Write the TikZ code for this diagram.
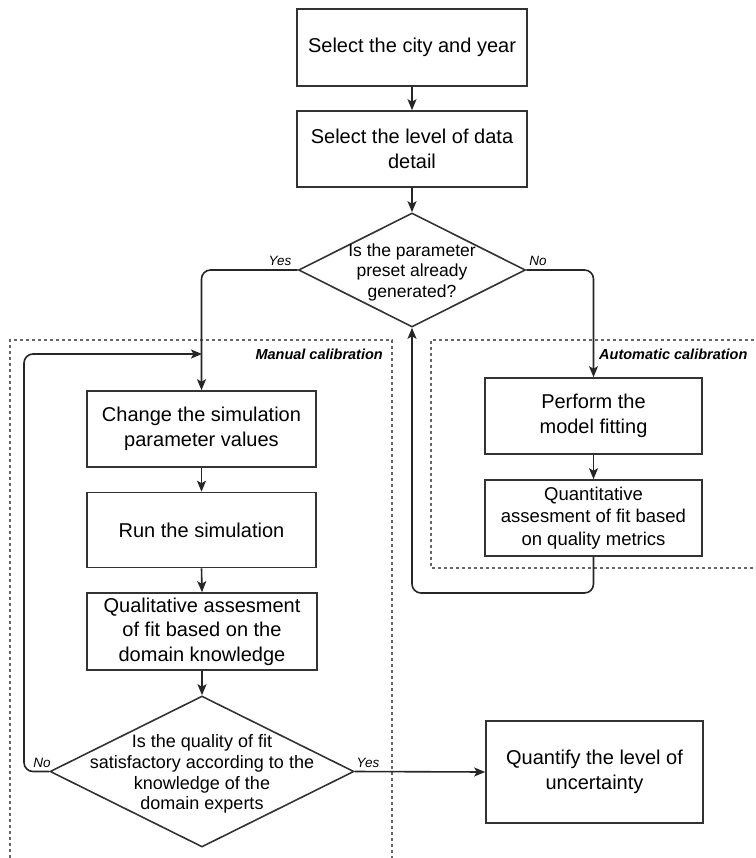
\documentclass[tikz,border=0pt]{standalone}
\usepackage{fontspec}
\setmainfont{Liberation Sans}
\usetikzlibrary{shapes.geometric,arrows.meta,calc}
\tikzset{
  box/.style={draw=black!80, line width=1.6pt, fill=white, inner sep=0pt, align=center,
    font=\fontsize{20}{24.5}\selectfont},
  dia/.style={draw=black!80, line width=1.6pt, diamond, inner sep=0pt},
  diatext/.style={align=center, inner sep=0pt},
  arr/.style={line width=1.6pt, draw=black!85, -{Stealth[length=11pt,width=9pt,inset=2.5pt]}},
  lab/.style={font=\fontsize{13.5}{14}\selectfont\itshape, inner sep=0pt},
  grp/.style={draw=black!60, line width=1.3pt, dash pattern=on 3pt off 3pt},
  grplab/.style={font=\fontsize{14.5}{15}\selectfont\bfseries\itshape, inner sep=0pt}
}
\begin{document}
\begin{tikzpicture}[x=1pt,y=-1pt]
\useasboundingbox (0,0) rectangle (755,858);
% groups
\draw[grp] (10,858) -- (10,340) -- (392,340) -- (392,858);
\draw[grp] (760,340) -- (431,340) -- (431,568) -- (760,568);
\node[grplab, anchor=east] (mcl) at (383,354) {Manual calibration};
\node[grplab, anchor=west] (acl) at (599,354) {Automatic calibration};
% nodes
\node[box, minimum width=230, minimum height=77] (b1) at (412,47.5) {Select the city and year};
\node[box, minimum width=230, minimum height=76] (b2) at (412,149) {Select the level of data\\detail};
\node[dia, minimum width=227, minimum height=114] (d1) at (412,270) {};
\node[diatext, font=\fontsize{17.5}{20.5}\selectfont] (d1t) at (412,272) {Is the parameter\\preset already\\generated?};
\node[box, minimum width=229, minimum height=76] (ch) at (201.5,429) {Change the simulation\\parameter values};
\node[box, minimum width=229, minimum height=75] (run) at (201.5,530) {Run the simulation};
\node[box, minimum width=230, minimum height=77] (ql) at (202,631.5) {Qualitative assesment\\of fit based on the\\domain knowledge};
\node[dia, minimum width=304, minimum height=151] (d2) at (202,771.5) {};
\node[diatext, font=\fontsize{18}{20.7}\selectfont] (d2t) at (202,774) {Is the quality of fit\\satisfactory according to the\\knowledge of the\\domain experts};
\node[box, minimum width=217, minimum height=76] (pf) at (593.5,416) {Perform the\\model fitting};
\node[box, minimum width=217, minimum height=76, font=\fontsize{18.5}{22.5}\selectfont] (qt) at (593.5,518) {Quantitative\\assesment of fit based\\on quality metrics};
\node[box, minimum width=217, minimum height=102] (qu) at (594.5,772) {Quantify the level of\\uncertainty};
% coordinates
\coordinate (fb) at (412,593);
\coordinate (lc) at (24,354);
\coordinate (loop) at (202,354);
% connectors
\draw[arr] (b1.south) -- (b2.north);
\draw[arr] (b2.south) -- (d1.north);
\draw[arr, rounded corners=9pt] (d1.west) -| (ch.north);
\draw[arr, rounded corners=9pt] (d1.east) -| (pf.north);
\draw[arr] (pf.south) -- (qt.north);
\draw[arr, rounded corners=9pt] (qt.south) |- (fb) -- (d1.south);
\draw[arr] (ch.south) -- (run.north);
\draw[arr] (run.south) -- (ql.north);
\draw[arr] (ql.south) -- (d2.north);
\draw[arr, rounded corners=9pt] (d2.west) -| (lc) -- (loop);
\draw[arr] (d2.east) -- (qu.west);
% labels
\node[lab] (y1) at (280,261) {Yes};
\node[lab] (n1) at (538,261) {No};
\node[lab] (n2) at (42,763) {No};
\node[lab] (y2) at (368,763) {Yes};
\end{tikzpicture}
\end{document}
